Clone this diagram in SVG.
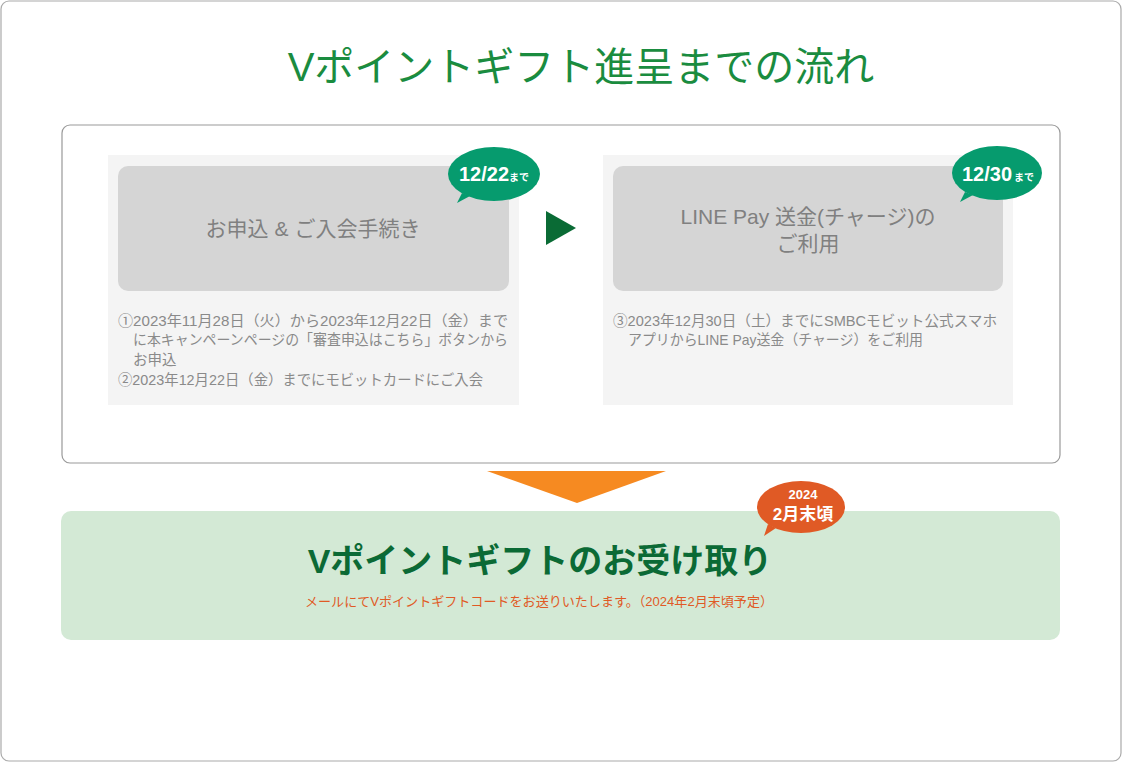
<svg xmlns="http://www.w3.org/2000/svg" width="1122" height="762" viewBox="0 0 1122 762">
<style>
text{font-family:"Liberation Sans","Noto Sans CJK JP",sans-serif}
.note{font-size:14.5px;fill:#8a8a8a}
.box{font-size:21px;fill:#808080}
.bub{fill:#fff;font-weight:bold}
</style>
<rect x="1" y="1" width="1120" height="760" rx="8" fill="#fff" stroke="#aaa" stroke-width="1.2"/>
<text x="581" y="81" text-anchor="middle" font-size="40" fill="#1a8c3f">Vポイントギフト進呈までの流れ</text>
<rect x="62" y="125" width="998" height="338" rx="8" fill="#fff" stroke="#999" stroke-width="1.2"/>

<g id="step1">
<rect x="108" y="155" width="411" height="250" fill="#f4f4f4"/>
<rect x="118" y="166" width="391" height="125" rx="10" fill="#d5d5d5"/>
<text class="box" x="313" y="236" text-anchor="middle">お申込<tspan dx="6">&amp;</tspan><tspan dx="6">ご入会手続き</tspan></text>
<text class="note" x="118" y="326" textLength="390" lengthAdjust="spacingAndGlyphs">①2023年11月28日（火）から2023年12月22日（金）まで</text>
<text class="note" x="133" y="345" textLength="375" lengthAdjust="spacingAndGlyphs">に本キャンペーンページの「審査申込はこちら」ボタンから</text>
<text class="note" x="133" y="365">お申込</text>
<text class="note" x="118" y="385" textLength="365" lengthAdjust="spacingAndGlyphs">②2023年12月22日（金）までにモビットカードにご入会</text>
</g>
<g id="badge1">
<path d="M470,196 L457,203 L462,193 Z" fill="#069b6e"/>
<ellipse cx="494" cy="174" rx="46" ry="27" fill="#069b6e"/>
<text class="bub" x="459" y="181" font-size="20">12/22<tspan font-size="10">まで</tspan></text>
</g>

<g id="step2">
<rect x="603" y="155" width="410" height="250" fill="#f4f4f4"/>
<rect x="613" y="166" width="390" height="125" rx="10" fill="#d5d5d5"/>
<text class="box" x="808" y="224" text-anchor="middle">LINE Pay 送金(チャージ)の</text>
<text class="box" x="808" y="251" text-anchor="middle">ご利用</text>
<text class="note" x="613" y="326" textLength="384" lengthAdjust="spacingAndGlyphs">③2023年12月30日（土）までにSMBCモビット公式スマホ</text>
<text class="note" x="628" y="345" textLength="295" lengthAdjust="spacingAndGlyphs">アプリからLINE Pay送金（チャージ）をご利用</text>
</g>
<g id="badge2">
<path d="M973,195 L960,202 L965,192 Z" fill="#069b6e"/>
<ellipse cx="997" cy="173" rx="45" ry="27" fill="#069b6e"/>
<text class="bub" x="962" y="181" font-size="20">12/30<tspan font-size="10" dx="2">まで</tspan></text>
</g>

<g id="connectors">
<polygon points="546,211 576,228 546,245" fill="#0a6b35"/>
<polygon points="487,471 666,471 577,503" fill="#f68a21"/>
</g>

<g id="result">
<rect x="61" y="511" width="999" height="129" rx="10" fill="#d3e9d5"/>
<text x="540" y="573" text-anchor="middle" font-size="34" font-weight="bold" fill="#0b6a35">Vポイントギフトのお受け取り</text>
<text x="539" y="606" text-anchor="middle" font-size="13" fill="#e05a25" textLength="468" lengthAdjust="spacingAndGlyphs">メールにてVポイントギフトコードをお送りいたします。（2024年2月末頃予定）</text>
</g>
<g id="badge3">
<path d="M776,528 L764,536 L768,524 Z" fill="#e05a25"/>
<ellipse cx="801" cy="507" rx="44" ry="26" fill="#e05a25"/>
<text class="bub" x="803" y="499" font-size="13" text-anchor="middle">2024</text>
<text class="bub" x="803" y="520" font-size="17" text-anchor="middle">2月末頃</text>
</g>
</svg>
